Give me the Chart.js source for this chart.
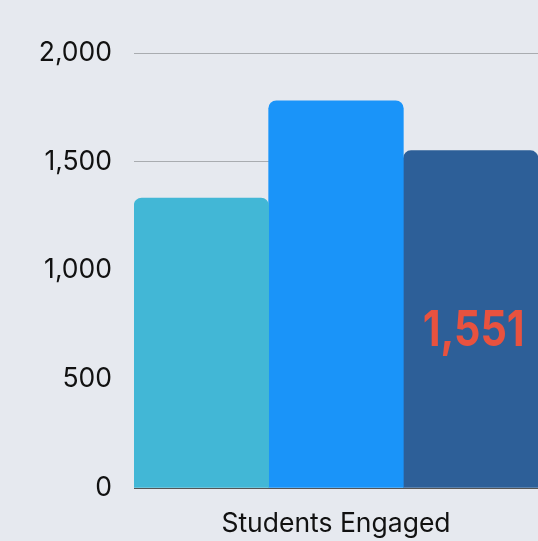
<!DOCTYPE html>
<html>
<head>
<meta charset="utf-8">
<script src="https://cdn.jsdelivr.net/npm/chart.js@4/dist/chart.umd.min.js"></script>
<style>
html,body{margin:0;padding:0;background:#e6e9ef;}
#wrap{width:538px;height:541px;}
</style>
</head>
<body>
<div id="wrap"><canvas id="c" width="538" height="541"></canvas></div>
<script>
const categories = ["Students Engaged"];
const seriesNames = ["Group A", "Group B", "Group C"];
const seriesValues = [[1333], [1780], [1551]];
const seriesColors = ["#42b7d6", "#1a94f9", "#2d5f98"];
const yTicks = [0, 500, 1000, 1500, 2000];
const highlightLabel = { dataset: 2, index: 0, text: "1,551" };

const valueLabelPlugin = {
  id: 'valueLabel',
  afterDatasetsDraw(chart) {
    const meta = chart.getDatasetMeta(highlightLabel.dataset);
    const el = meta.data[highlightLabel.index];
    if (!el) return;
    const ctx = chart.ctx;
    ctx.save();
    ctx.font = 'bold 50px Inter, "Open Sans", sans-serif';
    ctx.fillStyle = '#e8523f';
    ctx.textAlign = 'center';
    ctx.textBaseline = 'middle';
    const w = ctx.measureText(highlightLabel.text).width;
    const sx = 102 / w;
    const y = (el.y + el.base) / 2 + 12;
    ctx.translate(el.x + 3, y);
    ctx.scale(sx, 1);
    ctx.fillText(highlightLabel.text, 0, 0);
    ctx.restore();
  }
};

Chart.defaults.font.family = 'Inter, "Open Sans", sans-serif';

new Chart(document.getElementById('c'), {
  type: 'bar',
  data: {
    labels: categories,
    datasets: seriesNames.map((n, i) => ({
      label: n,
      data: seriesValues[i],
      backgroundColor: seriesColors[i],
      borderRadius: 8,
      borderSkipped: 'bottom',
      barPercentage: 1,
      categoryPercentage: 1
    }))
  },
  options: {
    responsive: false,
    animation: false,
    layout: { padding: { top: 53, right: -2, bottom: 0, left: 0 } },
    plugins: { legend: { display: false }, tooltip: { enabled: false } },
    scales: {
      x: {
        grid: { display: false },
        border: { display: true, color: '#555', width: 1 },
        ticks: { color: '#111', font: { size: 26.5 }, padding: 12 },
        afterFit(s) { s.height = 53; }
      },
      y: {
        min: 0, max: 2000,
        afterBuildTicks(s) { s.ticks = yTicks.map(v => ({ value: v })); },
        grid: { color: '#a9acb0', lineWidth: 1, drawTicks: false },
        border: { display: false },
        ticks: {
          color: '#111', font: { size: 26.5 }, padding: 22,
          callback: v => v.toLocaleString('en-US')
        },
        afterFit(s) { s.width = 134; }
      }
    }
  },
  plugins: [valueLabelPlugin]
});
</script>
</body>
</html>
